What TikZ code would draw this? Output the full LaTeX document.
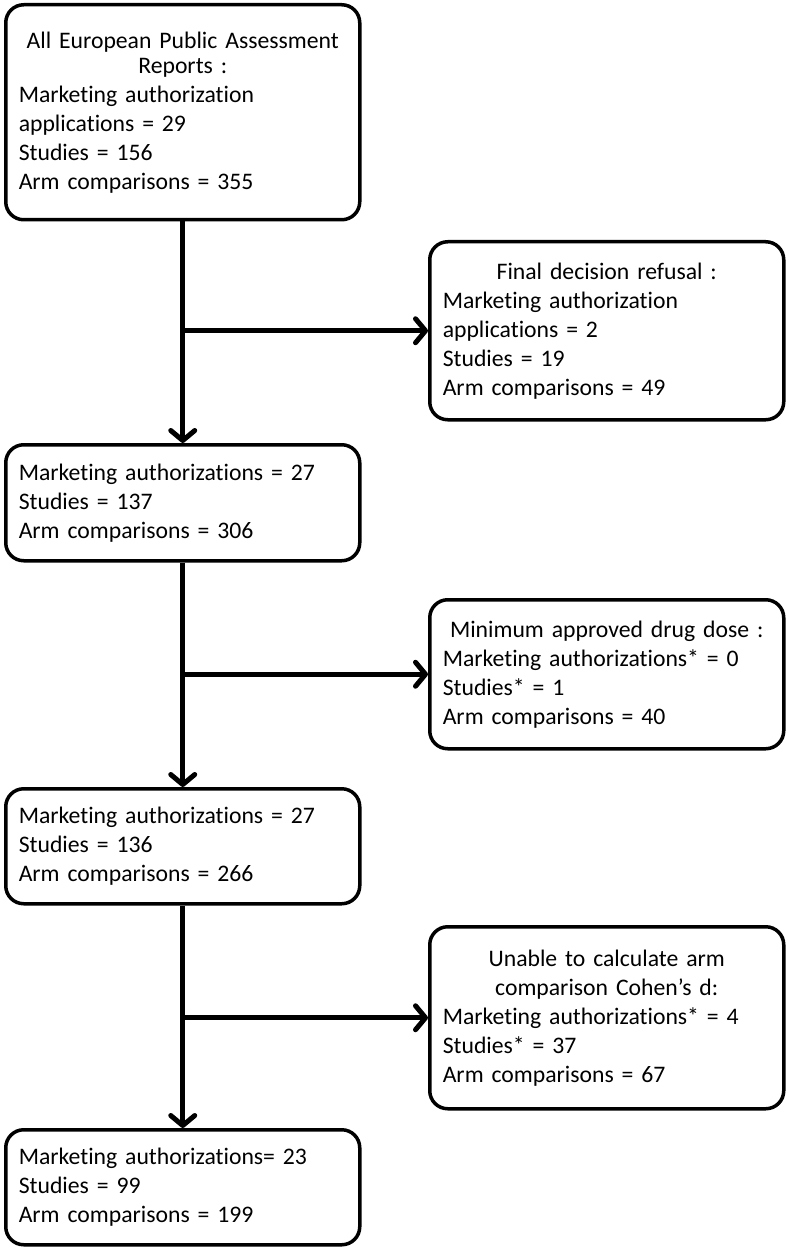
\documentclass[tikz,border=0pt]{standalone}
\usepackage{fontspec}
\setmainfont{Carlito}[Ligatures=NoCommon]
\usetikzlibrary{arrows.meta}
\newcommand{\headline}[1]{\makebox[\hsize][c]{#1}}

\tikzset{
  stage/.style={draw, line width=3.5pt, rounded corners=18pt, anchor=north west,
    text width=328pt, inner xsep=13pt, inner ysep=0pt, align=left,
    font=\fontsize{23.7}{29}\selectfont},
  flow/.style={line width=5pt, -{Straight Barb[length=10pt, width=24pt, round]}}
}

\begin{document}
\begin{tikzpicture}[x=1pt, y=-1pt]
\useasboundingbox (0,0) rectangle (788,1249);
\node[stage, minimum height=215pt](reports) at (4, 3) {\headline{All European Public Assessment}\\[-4pt] \headline{Reports :}\\ Marketing authorization\\ applications = 29\\ Studies = 156\\ Arm comparisons = 355};
\node[stage, minimum height=178pt](refusal) at (428, 240) {\headline{Final decision refusal :}\\ Marketing authorization\\ applications = 2\\ Studies = 19\\ Arm comparisons = 49};
\node[stage, minimum height=116pt](auth1) at (4, 443) {Marketing authorizations = 27\\ Studies = 137\\ Arm comparisons = 306};
\node[stage, minimum height=149pt](dose) at (428, 598) {\headline{Minimum approved drug dose :}\\ Marketing authorizations* = 0\\ Studies* = 1\\ Arm comparisons = 40};
\node[stage, minimum height=115pt](auth2) at (4, 787) {Marketing authorizations = 27\\ Studies = 136\\ Arm comparisons = 266};
\node[stage, minimum height=182pt](cohen) at (428, 925) {\headline{Unable to calculate arm}\\ \headline{comparison Cohen’s d:}\\ Marketing authorizations* = 4\\ Studies* = 37\\ Arm comparisons = 67};
\node[stage, minimum height=115pt](auth3) at (4, 1128) {Marketing authorizations= 23\\ Studies = 99\\ Arm comparisons = 199};
\draw[flow] (reports.south) -- (auth1.north);
\draw[flow] (reports.south |- refusal.west) -- (refusal.west);
\draw[flow] (auth1.south) -- (auth2.north);
\draw[flow] (auth1.south |- dose.west) -- (dose.west);
\draw[flow] (auth2.south) -- (auth3.north);
\draw[flow] (auth2.south |- cohen.west) -- (cohen.west);
\end{tikzpicture}
\end{document}
